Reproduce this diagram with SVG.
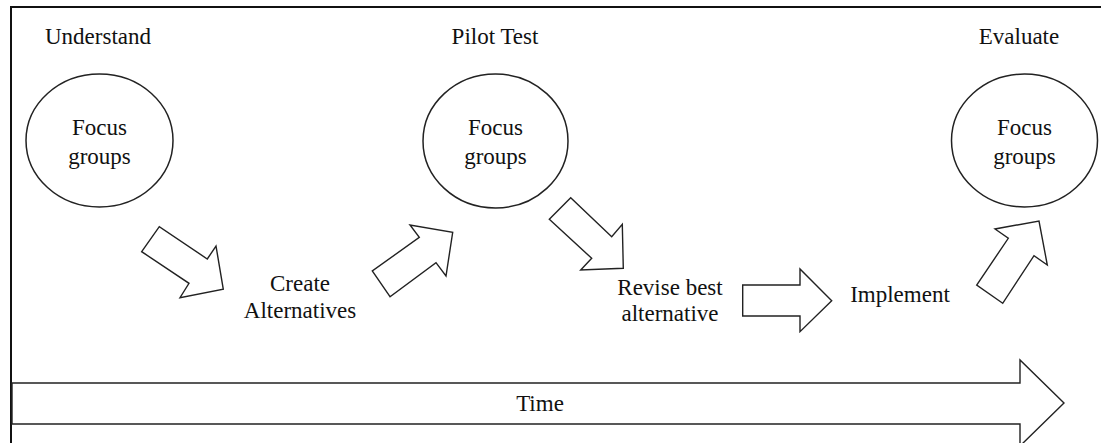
<svg xmlns="http://www.w3.org/2000/svg" width="1101" height="443" viewBox="0 0 1101 443">
  <style>
    .label { font-family: "Liberation Serif", "Times New Roman", serif; font-size: 23px; fill: #111; text-anchor: middle; }
    .node { fill: #fff; stroke: #222; stroke-width: 1.5; }
    .arrow { fill: #fff; stroke: #222; stroke-width: 1.4; stroke-linejoin: miter; }
  </style>
  <rect x="0" y="0" width="1101" height="443" fill="#fff"/>
  <!-- outer frame (continues past the right and bottom edges) -->
  <path d="M11,450 V7 H1110" fill="none" stroke="#111" stroke-width="2"/>

  <!-- stage headings -->
  <g id="stage-labels">
    <text class="label" x="98" y="44">Understand</text>
    <text class="label" x="495" y="44">Pilot Test</text>
    <text class="label" x="1019" y="44">Evaluate</text>
  </g>

  <g id="focus-understand">
    <ellipse class="node" cx="99.5" cy="140.5" rx="73.5" ry="66.5"/>
    <text class="label" x="99.5" y="135">Focus</text>
    <text class="label" x="99.5" y="164">groups</text>
  </g>
  <g id="focus-pilot">
    <ellipse class="node" cx="495.5" cy="141" rx="72.5" ry="67"/>
    <text class="label" x="495.5" y="135">Focus</text>
    <text class="label" x="495.5" y="164">groups</text>
  </g>
  <g id="focus-evaluate">
    <ellipse class="node" cx="1024.5" cy="140.5" rx="73" ry="66.5"/>
    <text class="label" x="1024.5" y="135">Focus</text>
    <text class="label" x="1024.5" y="164">groups</text>
  </g>

  <g id="create-alternatives">
    <text class="label" x="300" y="291">Create</text>
    <text class="label" x="300" y="318">Alternatives</text>
  </g>
  <g id="revise-best">
    <text class="label" x="670" y="295">Revise best</text>
    <text class="label" x="670" y="321">alternative</text>
  </g>
  <g id="implement">
    <text class="label" x="900" y="302">Implement</text>
  </g>

  <!-- block arrows between stages -->
  <g id="connectors">
    <polygon class="arrow" points="141.7,251.7 159.3,226.7 207.3,259 216,246 223.3,289.3 180,297.7 189,283.3"/>
    <polygon class="arrow" points="390,296.7 372.3,271 419.3,237.3 410,225 452.7,232.3 446,276 436,262.7"/>
    <polygon class="arrow" points="549.3,219.3 570.7,197.7 611.7,236.7 622.3,224.3 623.3,268.3 580.7,270 591.7,258.3"/>
    <polygon class="arrow" points="742.7,285 800,285 800,269 831.7,300.7 800,331.7 800,316 742.7,316"/>
    <polygon class="arrow" points="1002.7,303.3 976.7,285 1008.3,238.3 995,229 1039,221 1047.3,265 1034,255.7"/>
  </g>

  <g id="time-axis">
    <polygon class="arrow" points="12,383 1020,383 1020,360 1064,403 1020,446 1020,424 12,424"/>
    <text class="label" x="540" y="411">Time</text>
  </g>
</svg>
